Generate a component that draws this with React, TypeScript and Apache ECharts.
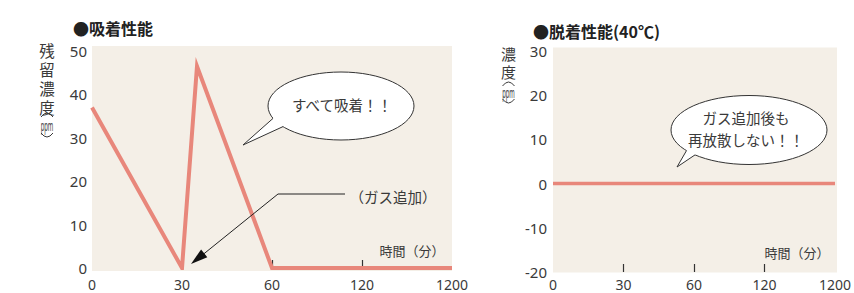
import React, { useEffect, useRef } from 'react';
import * as echarts from 'echarts';

// ---- data ----
const tickLabels = ['0', '30', '60', '120', '1200'];
const tickMinutes = [0, 30, 60, 120, 1200];
const adsorbMinutes = [0, 30, 35, 60, 120, 1200];
const adsorbPpm = [37, 0, 46.5, 0, 0, 0];
const desorbMinutes = [0, 30, 60, 120, 1200];
const desorbPpm = [0, 0, 0, 0, 0];

const leftTitle = '●吸着性能';
const rightTitle = '●脱着性能(40℃)';
const leftYName = '残\n留\n濃\n度';
const rightYName = '濃\n度';
const unitText = 'ppm';
const xName = '時間（分）';

// map minutes onto the evenly spaced (non-linear) time axis
function toPos(m: number): number {
  for (let i = 0; i < tickMinutes.length - 1; i++) {
    const a = tickMinutes[i];
    const b = tickMinutes[i + 1];
    if (m >= a && m <= b) return i + (m - a) / (b - a);
  }
  return tickMinutes.length - 1;
}

const NUM_FONT = '"Noto Sans", "Noto Sans CJK JP", sans-serif';
const JP_FONT = '"Noto Sans CJK JP", sans-serif';
const TEXT = '#3a3a3a';
const LINE = '#e8877b';
const BG = '#f4efe7';
const INK = '#333333';

export default function App() {
  const ref = useRef<HTMLDivElement>(null);

  useEffect(() => {
    if (!ref.current) return;
    const chart = echarts.init(ref.current, undefined, { renderer: 'svg' });

    const catAxis = (gridIndex: number, tickIdx: number[], margin: number) => ({
      type: 'category',
      gridIndex,
      data: tickLabels,
      boundaryGap: false,
      axisLine: { show: false, onZero: false },
      axisTick: {
        show: true,
        inside: true,
        length: 8,
        interval: (i: number) => tickIdx.indexOf(i) >= 0,
        lineStyle: { color: INK, width: 1.2 },
      },
      axisLabel: { interval: 0, margin, fontSize: 14, lineHeight: 14, color: TEXT, fontFamily: NUM_FONT },
      splitLine: { show: false },
    });

    const valAxis = (gridIndex: number, min: number, max: number, margin: number) => ({
      type: 'value',
      gridIndex,
      min,
      max,
      interval: 10,
      axisLine: { show: false },
      axisTick: { show: false },
      splitLine: { show: false },
      axisLabel: { margin, fontSize: 15, lineHeight: 15, color: TEXT, fontFamily: NUM_FONT },
    });

    const txt = (x: number, y: number, text: string, size: number, opts: any = {}) => ({
      type: 'text',
      x,
      y,
      z: 20,
      scaleX: opts.scaleX || 1,
      style: {
        text,
        fill: opts.fill || TEXT,
        fontSize: size,
        lineHeight: opts.lineHeight || undefined,
        fontFamily: opts.family || JP_FONT,
        fontWeight: opts.weight || 'normal',
        align: opts.align || 'center',
        verticalAlign: 'middle',
      },
    });

    // vertical-form parenthesis drawn as a flat arc
    const vParen = (cx: number, yEnd: number, yCtrl: number, half: number) => ({
      type: 'bezierCurve',
      z: 20,
      shape: { x1: cx - half, y1: yEnd, x2: cx + half, y2: yEnd, cpx1: cx, cpy1: yCtrl },
      style: { stroke: TEXT, lineWidth: 1, fill: null },
    });

    const unitBlock = (cx: number, topEnd: number, ppmY: number, botEnd: number) => [
      vParen(cx, topEnd, topEnd - 8, 6),
      txt(cx, ppmY, unitText, 14, { family: NUM_FONT, scaleX: 0.42, lineHeight: 10 }),
      vParen(cx, botEnd, botEnd + 8, 6),
    ];

    const bubble = (
      cx: number, cy: number, rx: number, ry: number,
      a: number[], tip: number[], b: number[], aIn: number[], bIn: number[]
    ) => [
      { type: 'ellipse', z: 10, shape: { cx, cy, rx, ry }, style: { fill: '#ffffff', stroke: INK, lineWidth: 1 } },
      { type: 'polygon', z: 11, shape: { points: [aIn, a, tip, b, bIn] }, style: { fill: '#ffffff' } },
      { type: 'polyline', z: 12, shape: { points: [a, tip, b] }, style: { stroke: INK, lineWidth: 1, fill: null } },
    ];

    const option: any = {
      animation: false,
      grid: [
        { left: 92, top: 51, width: 360, height: 217, show: false },
        { left: 553, top: 51, width: 284, height: 221, show: false },
      ],
      xAxis: [
        catAxis(0, [2, 3], 9.5),
        { type: 'value', gridIndex: 0, min: 0, max: 4, show: false },
        catAxis(1, [1, 2, 3], 5.5),
        { type: 'value', gridIndex: 1, min: 0, max: 4, show: false },
      ],
      yAxis: [valAxis(0, 0, 50, 5), valAxis(1, -20, 30, 6)],
      series: [
        {
          type: 'line',
          xAxisIndex: 1,
          yAxisIndex: 0,
          data: adsorbMinutes.map((m, i) => [toPos(m), adsorbPpm[i]]),
          symbol: 'none',
          lineStyle: { color: LINE, width: 4, join: 'miter', miterLimit: 20 },
          z: 3,
        },
        {
          type: 'line',
          xAxisIndex: 3,
          yAxisIndex: 1,
          data: desorbMinutes.map((m, i) => [toPos(m), desorbPpm[i]]),
          symbol: 'none',
          lineStyle: { color: LINE, width: 3.5 },
          z: 3,
        },
      ],
      graphic: [
        { type: 'rect', z: -1, shape: { x: 92, y: 46, width: 360, height: 225 }, style: { fill: BG } },
        { type: 'rect', z: -1, shape: { x: 553, y: 47.5, width: 284, height: 225 }, style: { fill: BG } },
        txt(73, 28, leftTitle, 16, { align: 'left', weight: 'bold', fill: '#222', lineHeight: 18 }),
        txt(533, 31, rightTitle, 16, { align: 'left', weight: 'bold', fill: '#222', lineHeight: 18 }),
        txt(47, 78.5, leftYName, 15.5, { lineHeight: 19 }),
        ...unitBlock(47, 117, 125.5, 133),
        txt(508.5, 62, rightYName, 15, { lineHeight: 18 }),
        ...unitBlock(508.5, 86, 92.5, 99),
        txt(412, 250, xName, 13),
        txt(797, 252, xName, 13),
        // left bubble
        ...bubble(341, 106, 73, 34, [273, 118.4], [243, 145], [283, 126.6], [276, 113], [287, 120]),
        txt(342, 104, 'すべて吸着！！', 14.5),
        // right bubble
        ...bubble(749, 130, 78, 34.5, [686.5, 150.6], [677, 167], [695, 154.9], [690, 146], [698, 149]),
        txt(746, 117, 'ガス追加後も', 14.5),
        txt(746, 139, '再放散しない！！', 14.5),
        // gas addition annotation
        txt(393, 196, '（ガス追加）', 14.5),
        {
          type: 'polyline', z: 12,
          shape: { points: [[345, 194], [278, 194], [203, 254.5]] },
          style: { stroke: '#222', lineWidth: 1, fill: null },
        },
        {
          type: 'polygon', z: 12,
          shape: { points: [[191, 264], [207.3, 257.2], [201.1, 249.4]] },
          style: { fill: '#111' },
        },
      ],
    };

    chart.setOption(option);
    return () => chart.dispose();
  }, []);

  return (
    <div
      ref={ref}
      style={{ position: 'fixed', left: 0, top: 0, width: 854, height: 293, background: '#ffffff' }}
    />
  );
}
